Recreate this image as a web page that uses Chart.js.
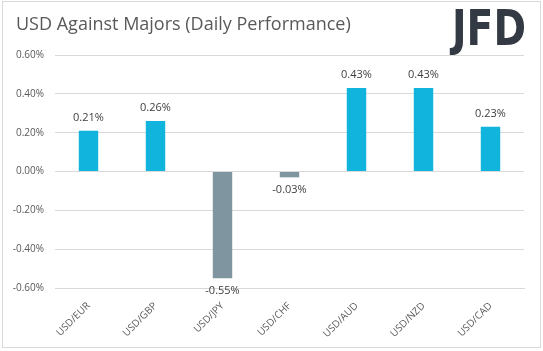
<!DOCTYPE html>
<html>
<head>
<meta charset="utf-8">
<script src="https://cdn.jsdelivr.net/npm/chart.js@4"></script>
<style>
  html, body { margin: 0; padding: 0; background: #fff; }
  #wrap { width: 543px; height: 351px; position: relative; }
</style>
</head>
<body>
<div id="wrap"><canvas id="chart" width="543" height="351"></canvas></div>
<script>
const pairs = ['USD/EUR', 'USD/GBP', 'USD/JPY', 'USD/CHF', 'USD/AUD', 'USD/NZD', 'USD/CAD'];
const changes = [0.21, 0.26, -0.55, -0.03, 0.43, 0.43, 0.23];
const yTicks = [-0.6, -0.4, -0.2, 0, 0.2, 0.4, 0.6];

const UP = '#10b4dc';
const DOWN = '#7f95a0';
const FONT = '"Open Sans", sans-serif';

// frame, title and logo
const decor = {
  id: 'decor',
  beforeDraw(chart) {
    const ctx = chart.ctx;
    ctx.save();
    ctx.fillStyle = '#fff';
    ctx.fillRect(0, 0, chart.width, chart.height);
    ctx.strokeStyle = '#d9d9d9';
    ctx.lineWidth = 1;
    ctx.strokeRect(2.5, 1.5, 538, 346);

    ctx.fillStyle = '#595959';
    ctx.font = '18px ' + FONT;
    ctx.textBaseline = 'middle';
    ctx.fillText('USD Against Majors (Daily Performance)', 16, 25);

    ctx.fillStyle = '#333a43';
    ctx.font = 'bold 49px "DejaVu Sans", sans-serif';
    ctx.textBaseline = 'alphabetic';
    ctx.fillText('JFD', 452, 45, 74);
    ctx.restore();
  }
};

// value labels above / below bars
const barLabels = {
  id: 'barLabels',
  afterDatasetsDraw(chart) {
    const ctx = chart.ctx;
    const meta = chart.getDatasetMeta(0);
    ctx.save();
    ctx.font = '11px ' + FONT;
    ctx.fillStyle = '#404040';
    ctx.textAlign = 'center';
    ctx.textBaseline = 'middle';
    meta.data.forEach((bar, i) => {
      const v = changes[i];
      const y = v >= 0 ? bar.y - 13 : bar.y + 13;
      ctx.fillText(v.toFixed(2) + '%', bar.x, y);
    });
    ctx.restore();
  }
};

new Chart(document.getElementById('chart'), {
  type: 'bar',
  data: {
    labels: pairs,
    datasets: [{
      data: changes,
      backgroundColor: changes.map(v => v >= 0 ? UP : DOWN),
      barPercentage: 0.29,
      categoryPercentage: 1
    }]
  },
  options: {
    responsive: false,
    animation: false,
    layout: { padding: { top: 55, right: 19, left: 0, bottom: 0 } },
    plugins: {
      legend: { display: false },
      tooltip: { enabled: false }
    },
    scales: {
      x: {
        grid: { display: false },
        border: { color: '#d9d9d9' },
        ticks: {
          color: '#595959',
          font: { family: FONT, size: 10 },
          minRotation: 45,
          maxRotation: 45,
          padding: 4
        },
        afterFit: s => { s.height = 63; }
      },
      y: {
        min: -0.6,
        max: 0.6,
        afterBuildTicks: s => { s.ticks = yTicks.map(v => ({ value: v })); },
        grid: { color: '#d9d9d9', drawTicks: false },
        border: { display: false },
        ticks: {
          color: '#595959',
          font: { family: FONT, size: 10 },
          padding: 11,
          callback: v => v.toFixed(2) + '%'
        },
        afterFit: s => { s.width = 55; }
      }
    }
  },
  plugins: [decor, barLabels]
});
</script>
</body>
</html>
